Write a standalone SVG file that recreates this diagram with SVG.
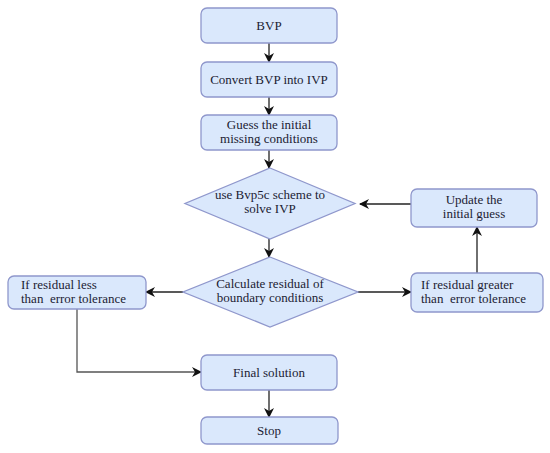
<svg xmlns="http://www.w3.org/2000/svg" width="550" height="453" viewBox="0 0 550 453">
<defs>
<marker id="arr" viewBox="0 0 10 10" refX="9" refY="5" markerWidth="10" markerHeight="10" markerUnits="userSpaceOnUse" orient="auto">
<path d="M0,0 L10,5 L0,10 L3,5 Z" fill="#111"/>
</marker>
<style>
.box{fill:#dae8fc;stroke:#8f97cc;stroke-width:1.3}
text{font-family:'Liberation Serif','Times New Roman',serif;font-size:13px;fill:#1c1c33;white-space:pre}
.t{text-anchor:middle}
.c{fill:none;stroke:#222;stroke-width:1.3;marker-end:url(#arr)}
.c2{fill:none;stroke:#555;stroke-width:1.3;marker-end:url(#arr)}
</style>
</defs>
<rect width="550" height="453" fill="#fff"/>
<g id="connectors">
<path class="c" d="M269,43 V62"/>
<path class="c" d="M269,97 V115"/>
<path class="c" d="M269,150 V168"/>
<path class="c" d="M269,239 V257"/>
<path class="c" d="M183,292 H146"/>
<path class="c" d="M358,292 H411"/>
<path class="c" d="M477,273 V227"/>
<path class="c" d="M411,204 H360"/>
<path class="c2" d="M77,309 V372 H201"/>
<path class="c" d="M269,390 V417"/>
</g>
<g id="bvp">
<rect class="box" x="201" y="8" width="136" height="35" rx="6"/>
<text class="t" x="269" y="30" font-family="Liberation Serif, serif">BVP</text>
</g>
<g id="convert">
<rect class="box" x="201" y="62" width="136" height="35" rx="6"/>
<text class="t" x="269" y="84" font-family="Liberation Serif, serif">Convert BVP into IVP</text>
</g>
<g id="guess">
<rect class="box" x="201" y="115" width="136" height="35" rx="6"/>
<text class="t" x="269" y="129" font-family="Liberation Serif, serif">Guess the initial</text>
<text class="t" x="269" y="143" font-family="Liberation Serif, serif">missing conditions</text>
</g>
<g id="solve">
<polygon class="box" points="270,168 355,203.5 270,239 185,203.5"/>
<text class="t" x="270" y="199" font-family="Liberation Serif, serif">use Bvp5c scheme to</text>
<text class="t" x="270" y="213" font-family="Liberation Serif, serif">solve IVP</text>
</g>
<g id="residual">
<polygon class="box" points="270,257 358,292 270,327 183,292"/>
<text class="t" x="270" y="288" font-family="Liberation Serif, serif">Calculate residual of</text>
<text class="t" x="270" y="302" font-family="Liberation Serif, serif">boundary conditions</text>
</g>
<g id="update">
<rect class="box" x="411" y="189" width="126" height="38" rx="6"/>
<text class="t" x="474" y="204" font-family="Liberation Serif, serif">Update the</text>
<text class="t" x="474" y="218" font-family="Liberation Serif, serif">initial guess</text>
</g>
<g id="greater">
<rect class="box" x="411" y="273" width="132" height="39" rx="6"/>
<text x="421" y="289" font-family="Liberation Serif, serif" xml:space="preserve">If residual greater</text>
<text x="421" y="303" font-family="Liberation Serif, serif" xml:space="preserve">than  error tolerance</text>
</g>
<g id="less">
<rect class="box" x="8" y="276" width="138" height="33" rx="6"/>
<text x="21" y="289" font-family="Liberation Serif, serif" xml:space="preserve">If residual less</text>
<text x="21" y="303" font-family="Liberation Serif, serif" xml:space="preserve">than  error tolerance</text>
</g>
<g id="final">
<rect class="box" x="201" y="355" width="136" height="35" rx="6"/>
<text class="t" x="269" y="377" font-family="Liberation Serif, serif">Final solution</text>
</g>
<g id="stop">
<rect class="box" x="201" y="417" width="137" height="27" rx="6"/>
<text class="t" x="269" y="435" font-family="Liberation Serif, serif">Stop</text>
</g>
</svg>
